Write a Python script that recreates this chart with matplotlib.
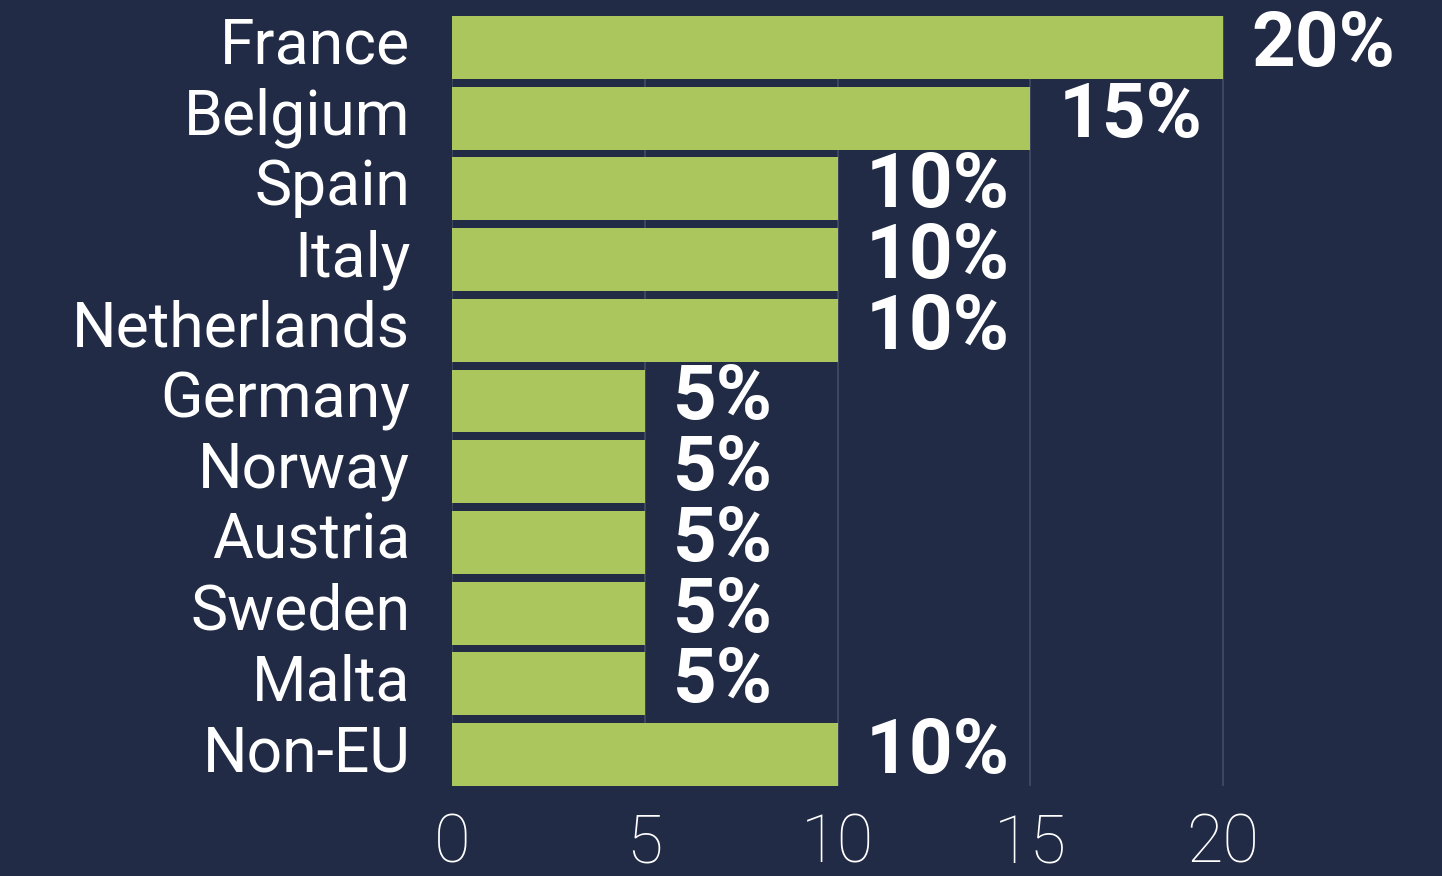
import matplotlib as mpl
mpl.use('Agg')
import matplotlib.pyplot as plt
import matplotlib.transforms as mtransforms

countries = ['France', 'Belgium', 'Spain', 'Italy', 'Netherlands', 'Germany',
             'Norway', 'Austria', 'Sweden', 'Malta', 'Non-EU']
shares = [20, 15, 10, 10, 10, 5, 5, 5, 5, 5, 10]
xticks = [0, 5, 10, 15, 20]

bg = '#222b45'
green = '#abc65d'
grid = '#434c64'

fig = plt.figure(figsize=(14.42, 8.76), dpi=100, facecolor=bg)
ax = fig.add_axes([452/1442, 1 - 786/876, 990/1442, 770/876])
ax.set_facecolor(bg)

ypos = list(range(len(countries)))
ax.barh(ypos, shares, height=0.89, color=green, zorder=2)

for y, v in zip(ypos, shares):
    ax.annotate(f'{v}%', xy=(v, y), xytext=(28, 2), textcoords='offset pixels',
                ha='left', va='center', color='white', fontsize=55,
                fontweight='bold', family='Roboto', zorder=3)

ax.set_xlim(0, 990/38.55)
ax.set_ylim(len(countries) - 1 + 0.445, -0.445)
ax.set_xticks(xticks)
ax.set_xticklabels([str(t) for t in xticks])
ax.set_yticks(ypos)
ax.set_yticklabels(countries)
ax.tick_params(axis='both', length=0, colors='white')
ax.tick_params(axis='x', pad=19, labelsize=48)
ax.tick_params(axis='y', pad=30, labelsize=45)
for lab in ax.get_xticklabels():
    lab.set_family('Roboto')
    lab.set_fontweight('light')
shift = mtransforms.ScaledTranslation(0, 7/100, fig.dpi_scale_trans)
for lab in ax.get_yticklabels():
    lab.set_family('Roboto')
    lab.set_fontweight('normal')
    lab.set_transform(lab.get_transform() + shift)

ax.xaxis.grid(True, color=grid, linewidth=1.2, zorder=0)
ax.set_axisbelow(True)
for s in ax.spines.values():
    s.set_visible(False)

plt.savefig('out.png', dpi=100, facecolor=bg)
